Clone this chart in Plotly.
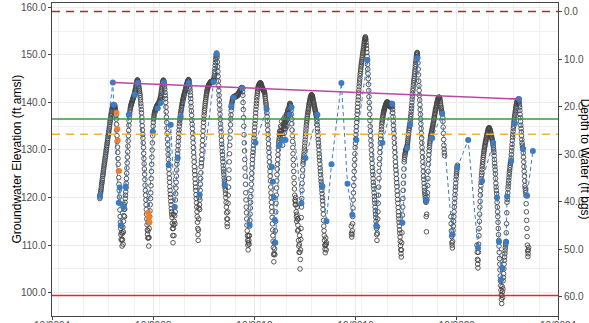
import pandas as pd
import plotly.graph_objects as go

# ---------------- data ----------------
ground_surface = 159.1          # ft amsl (depth 0)
bottom_line_elev = 99.4         # red line
green_line_elev = 136.5
orange_line_elev = 133.3

trend_dates = ["2007-02-26", "2023-03-18"]
trend_values = [144.2, 140.7]

# continuous logger records: a reading at the start of each week and one mid-week
seg_starts = ["2006-08-22", "2016-07-31", "2020-07-08", "2021-07-19"]

seg1 = [
    119.8, 120.5, 121.3, 122.0, 122.9, 123.6, 124.5, 125.2, 126.0, 126.8,
    127.5, 128.3, 129.0, 129.8, 130.5, 131.3, 132.0, 132.8, 133.5, 134.2,
    135.0, 135.8, 136.5, 137.2, 137.8, 138.4, 138.9, 139.3, 139.5, 139.2,
    138.8, 139.4, 138.6, 138.0, 136.5, 134.2, 131.8, 129.5, 127.0, 124.2,
    121.5, 118.8, 116.0, 113.5, 111.2, 114.0, 109.8, 112.5, 110.2, 115.0,
    117.5, 116.0, 119.0, 120.5, 122.0, 124.0, 126.2, 128.5, 130.8, 133.0,
    135.2, 137.0, 138.0, 138.8, 139.3, 139.6, 140.0, 140.3, 140.6, 141.0,
    141.3, 141.6, 142.0, 142.5, 143.0, 143.6, 144.2, 144.6, 144.7, 144.3,
    143.8, 143.0, 142.3, 141.5, 140.5, 139.2, 137.8, 136.0, 134.2, 132.5,
    130.5, 128.2, 126.0, 123.8, 121.5, 119.5, 117.5, 115.5, 113.2, 111.5,
    115.0, 109.8, 113.5, 116.0, 118.5, 121.0, 124.0, 127.0, 130.0, 133.0,
    135.0, 136.5, 137.3, 137.8, 138.2, 138.5, 138.8, 139.0, 139.3, 139.5,
    139.6, 139.8, 140.0, 140.2, 140.5, 141.0, 141.5, 142.3, 143.0, 143.8,
    144.3, 144.7, 144.5, 143.8, 142.8, 141.5, 140.0, 138.0, 135.8, 133.5,
    131.2, 129.0, 127.0, 125.0, 123.2, 121.5, 120.0, 118.5, 117.0, 115.8,
    113.5, 110.5, 116.5, 112.0, 118.0, 114.5, 119.5, 122.0, 124.5, 127.0,
    128.5, 130.0, 131.8, 133.5, 135.0, 136.2, 137.0, 137.8, 138.5, 139.2,
    139.8, 140.3, 140.8, 141.2, 141.7, 142.0, 142.4, 142.8, 143.2, 143.6,
    144.0, 144.3, 144.6, 144.8, 144.5, 143.8, 142.8, 141.5, 140.0, 138.2,
    136.3, 134.5, 132.5, 130.5, 128.5, 126.5, 124.8, 123.0, 121.5, 119.8,
    118.0, 116.0, 113.5, 111.0, 115.5, 120.0, 117.5, 121.5, 124.0, 126.5,
    128.0, 130.0, 132.0, 134.0, 135.8, 137.2, 138.3, 139.3, 140.2, 141.0,
    141.7, 142.3, 142.8, 143.2, 143.5, 143.7, 143.9, 144.0, 144.2, 144.3,
    144.4, 144.3, 144.5, 144.6, 144.4, 144.8, 145.5, 146.5, 147.8, 149.0,
    150.0, 150.4, 149.5, 147.5, 145.5, 143.5, 141.5, 139.5, 137.5, 135.5,
    133.8, 132.0, 130.5, 129.0, 127.5, 126.0, 124.8, 123.5, 122.5, 121.5,
    120.0, 118.0, 115.5, 113.9, 117.0, 120.5, 124.0, 127.5, 131.0, 134.0,
    136.5, 138.3, 139.5, 140.2, 140.7, 141.0, 141.2, 141.0, 141.3, 141.1,
    141.4, 141.2, 141.5, 141.3, 141.7, 141.5, 141.9, 142.0, 142.2, 142.4,
    142.6, 142.8, 143.0, 143.1, 143.0, 141.5, 138.5, 135.0, 131.5, 128.0,
    124.5, 121.0, 118.0, 115.5, 113.0, 111.0, 109.0, 112.0, 110.2, 114.0,
    116.5, 119.0, 121.5, 124.0, 126.2, 128.0, 129.5, 131.0, 132.5, 134.0,
    135.5, 137.0, 138.5, 139.8, 141.0, 142.0, 142.8, 143.3, 143.6, 143.8,
    144.0, 144.1, 144.0, 143.7, 143.4, 143.1, 142.9, 142.7, 142.5, 142.3,
    142.0, 141.2, 140.3, 139.5, 138.6, 137.0, 135.2, 133.3, 131.3, 129.5,
    127.5, 125.5, 123.5, 121.0, 119.0, 117.0, 114.5, 112.0, 109.5, 106.5,
    110.5, 108.0, 113.0, 117.0, 120.5, 123.5, 126.0, 128.0, 130.0, 131.5,
    132.5, 134.0, 133.0, 135.0, 132.0, 136.0, 133.5, 131.0, 134.5, 136.5,
    133.5, 135.5, 137.0, 134.5, 136.0, 137.5, 135.0, 137.8, 138.5, 137.0,
    138.5, 139.2, 139.8, 139.5, 139.0, 137.5, 135.5, 133.0, 130.5, 128.0,
    125.5, 123.0, 120.5, 118.5, 120.0, 117.0, 115.0, 118.0, 113.0, 115.5,
    111.0, 108.5, 112.0, 105.0, 109.0, 113.5, 118.0, 121.5, 124.5, 127.0,
    128.0, 129.0, 130.2, 131.5, 132.8, 134.0, 135.2, 136.2, 137.0, 137.8,
    138.5, 139.2, 139.8, 140.3, 140.8, 141.2, 141.5, 141.6, 141.4, 141.0,
    140.5, 140.0, 139.5, 139.0, 138.5, 138.0, 137.5, 137.0, 136.0, 134.5,
    133.0, 131.5, 130.0, 128.5, 127.0, 125.5, 124.0, 122.8, 121.5, 120.0,
    118.5, 116.5, 114.0, 112.0, 110.0, 108.4, 111.5, 109.0,
]
seg1_mid = [
    120.1, 120.9, 121.6, 122.5, 123.2, 124.0, 124.8, 125.6, 126.4, 127.1,
    127.9, 128.6, 129.4, 130.1, 130.9, 131.6, 132.4, 133.1, 133.8, 134.6,
    135.4, 136.1, 136.8, 137.5, 138.1, 138.6, 139.1, 139.4, 139.3, 139.0,
    139.1, 139.0, 138.3, 137.3, 135.4, 133.0, 130.6, 128.2, 125.6, 122.8,
    120.1, 117.4, 114.8, 112.2, 112.6, 111.0, 111.2, 113.8, 112.8, 116.2,
    118.5, 117.6, 119.8, 121.2, 123.0, 125.1, 127.3, 129.6, 131.9, 134.1,
    136.1, 137.5, 138.4, 139.0, 139.5, 139.8, 140.1, 140.5, 140.8, 141.1,
    141.4, 141.8, 142.2, 142.8, 143.3, 143.9, 144.4, 144.7, 144.5, 144.0,
    143.4, 142.6, 141.9, 141.0, 139.8, 138.5, 136.9, 135.1, 133.3, 131.5,
    129.3, 127.1, 124.9, 122.6, 120.5, 118.5, 116.5, 114.3, 112.3, 113.0,
    111.5, 111.6, 114.8, 117.2, 119.8, 122.5, 125.5, 128.5, 131.5, 134.0,
    135.8, 136.9, 137.6, 138.0, 138.3, 138.6, 138.9, 139.1, 139.4, 139.5,
    139.7, 139.9, 140.1, 140.3, 140.7, 141.2, 141.9, 142.6, 143.4, 144.0,
    144.5, 144.6, 144.2, 143.3, 142.1, 140.8, 139.0, 136.9, 134.6, 132.3,
    130.1, 128.0, 126.0, 124.1, 122.3, 120.7, 119.2, 117.7, 116.4, 114.6,
    112.0, 113.5, 114.2, 115.0, 116.2, 117.0, 120.8, 123.2, 125.8, 127.8,
    129.2, 130.9, 132.6, 134.2, 135.6, 136.6, 137.4, 138.2, 138.9, 139.5,
    140.0, 140.5, 141.0, 141.5, 141.8, 142.2, 142.6, 143.0, 143.4, 143.8,
    144.2, 144.5, 144.7, 144.7, 144.2, 143.3, 142.2, 140.8, 139.1, 137.3,
    135.4, 133.5, 131.5, 129.5, 127.5, 125.6, 123.9, 122.2, 120.6, 118.9,
    117.0, 114.8, 112.2, 113.2, 117.8, 118.5, 119.5, 122.8, 125.2, 127.3,
    129.0, 131.0, 133.0, 134.9, 136.5, 137.8, 138.8, 139.8, 140.6, 141.4,
    142.0, 142.6, 143.0, 143.4, 143.6, 143.8, 144.0, 144.1, 144.3, 144.4,
    144.3, 144.4, 144.5, 144.5, 144.6, 145.1, 146.0, 147.1, 148.4, 149.5,
    150.2, 150.0, 148.5, 146.5, 144.5, 142.5, 140.5, 138.5, 136.5, 134.6,
    132.9, 131.2, 129.7, 128.2, 126.7, 125.4, 124.1, 123.0, 122.0, 120.8,
    119.0, 116.8, 114.5, 115.5, 118.8, 122.2, 125.8, 129.2, 132.5, 135.3,
    137.4, 138.9, 139.9, 140.5, 140.9, 141.1, 141.1, 141.2, 141.2, 141.3,
    141.3, 141.4, 141.4, 141.5, 141.6, 141.7, 141.9, 142.1, 142.3, 142.5,
    142.7, 142.9, 143.1, 143.1, 142.3, 140.0, 136.8, 133.2, 129.8, 126.2,
    122.8, 119.5, 116.8, 114.2, 112.0, 110.0, 110.5, 111.0, 112.0, 115.2,
    117.8, 120.2, 122.8, 125.1, 127.1, 128.8, 130.2, 131.8, 133.2, 134.8,
    136.2, 137.8, 139.2, 140.4, 141.5, 142.4, 143.1, 143.5, 143.7, 143.9,
    144.1, 144.1, 143.9, 143.6, 143.2, 143.0, 142.8, 142.6, 142.4, 142.2,
    141.6, 140.8, 139.9, 139.0, 137.8, 136.1, 134.2, 132.3, 130.4, 128.5,
    126.5, 124.5, 122.2, 120.0, 118.0, 115.8, 113.2, 110.8, 108.0, 108.3,
    109.2, 110.5, 115.0, 118.8, 122.0, 124.8, 127.0, 129.0, 130.8, 132.0,
    133.2, 133.5, 134.0, 133.5, 134.0, 134.8, 132.2, 132.8, 135.5, 135.0,
    134.5, 136.2, 135.8, 135.2, 136.8, 136.2, 136.4, 138.2, 137.8, 137.8,
    138.9, 139.5, 139.7, 139.3, 138.3, 136.5, 134.2, 131.8, 129.2, 126.8,
    124.2, 121.8, 119.5, 119.2, 118.5, 116.0, 116.5, 115.5, 114.2, 113.2,
    109.8, 110.2, 108.5, 107.0, 111.2, 115.8, 119.8, 123.0, 125.8, 127.5,
    128.5, 129.6, 130.8, 132.1, 133.4, 134.6, 135.7, 136.6, 137.4, 138.1,
    138.8, 139.5, 140.0, 140.5, 141.0, 141.3, 141.6, 141.5, 141.2, 140.8,
    140.2, 139.7, 139.2, 138.7, 138.2, 137.7, 137.2, 136.5, 135.3, 133.8,
    132.2, 130.8, 129.2, 127.8, 126.2, 124.8, 123.4, 122.2, 120.8, 119.3,
    117.5, 115.2, 113.0, 111.0, 109.2, 110.0, 110.2, 110.5,
]

seg2 = [
    114.0, 111.7, 113.0, 116.0, 119.5, 122.5, 125.5, 128.0, 130.5, 132.3,
    134.0, 135.8, 137.5, 139.0, 140.5, 142.0, 143.3, 144.5, 145.6, 146.6,
    147.5, 148.3, 149.0, 149.8, 150.5, 151.3, 152.0, 152.8, 153.4, 153.8,
    153.2, 152.0, 150.5, 148.9, 147.0, 145.0, 142.5, 140.0, 137.5, 135.0,
    133.0, 131.0, 129.0, 127.2, 125.5, 124.0, 122.5, 121.0, 119.5, 118.0,
    116.5, 115.0, 113.5, 111.0, 113.9, 117.0, 120.5, 124.0, 127.0, 129.5,
    131.5, 133.0, 134.3, 135.5, 136.3, 137.0, 137.6, 138.1, 138.5, 138.9,
    139.2, 139.5, 139.8, 140.0, 140.1, 140.0, 139.8, 139.7, 139.5, 139.2,
    139.5, 139.0, 139.8, 139.3, 139.7, 138.5, 137.0, 135.2, 133.5, 131.5,
    129.5, 127.5, 125.8, 124.0, 122.3, 120.5, 118.8, 117.0, 115.5, 114.0,
    112.5, 110.8, 109.0, 107.5, 110.5, 114.7, 118.0, 121.5, 124.5, 127.5,
    128.5, 129.2, 129.8, 130.2, 130.4, 130.8, 131.5, 132.3, 133.2, 134.2,
    135.0, 135.5, 136.5, 137.5, 138.7, 140.0, 141.3, 142.5, 143.6, 144.6,
    145.5, 146.5, 147.5, 148.5, 149.5, 150.2, 150.5, 149.5, 147.0, 144.5,
    142.5, 140.5, 138.5, 136.5, 134.5, 132.5, 130.5, 128.5, 126.5, 124.5,
    123.0, 121.5, 120.5, 119.5, 119.0, 112.8, 119.5, 121.0, 124.0, 127.0,
    129.0, 130.5, 131.5, 132.3, 133.0, 133.5, 134.0, 134.5, 135.0, 135.6,
    136.2, 136.8, 137.4, 138.0, 138.5, 139.0, 139.5, 140.0, 140.4, 140.7,
    141.0, 141.1, 141.0, 140.5, 139.8, 139.0, 138.3, 137.8, 137.6, 136.0,
    133.5, 131.0, 129.4,
]
seg2_mid = [
    112.5, 112.2, 114.5, 117.8, 121.0, 124.0, 126.8, 129.2, 131.4, 133.2,
    134.9, 136.6, 138.2, 139.8, 141.2, 142.6, 143.9, 145.0, 146.1, 147.0,
    147.9, 148.6, 149.4, 150.2, 150.9, 151.6, 152.4, 153.1, 153.6, 153.5,
    152.6, 151.3, 149.7, 148.0, 146.0, 143.8, 141.2, 138.8, 136.2, 134.0,
    132.0, 130.0, 128.1, 126.3, 124.8, 123.2, 121.8, 120.2, 118.8, 117.2,
    115.8, 114.2, 112.2, 112.5, 115.5, 118.8, 122.2, 125.5, 128.2, 130.5,
    132.3, 133.7, 134.9, 135.9, 136.7, 137.3, 137.9, 138.3, 138.7, 139.0,
    139.4, 139.6, 139.9, 140.1, 140.0, 139.9, 139.7, 139.6, 139.3, 139.4,
    139.2, 139.4, 139.5, 139.5, 139.1, 137.8, 136.1, 134.3, 132.5, 130.5,
    128.5, 126.6, 124.9, 123.1, 121.4, 119.6, 117.9, 116.2, 114.8, 113.2,
    111.7, 109.9, 108.2, 109.0, 112.6, 116.3, 119.8, 123.0, 126.0, 128.0,
    128.9, 129.5, 130.0, 130.3, 130.6, 131.1, 131.9, 132.8, 133.7, 134.6,
    135.2, 136.0, 137.0, 138.1, 139.3, 140.7, 141.9, 143.0, 144.1, 145.0,
    146.0, 147.0, 148.0, 149.0, 149.9, 150.4, 150.1, 148.3, 145.8, 143.5,
    141.5, 139.5, 137.5, 135.5, 133.5, 131.5, 129.5, 127.5, 125.5, 123.8,
    122.2, 121.0, 120.0, 119.2, 116.0, 116.5, 120.2, 122.5, 125.5, 128.0,
    129.8, 131.0, 131.9, 132.7, 133.3, 133.8, 134.3, 134.8, 135.3, 135.9,
    136.5, 137.1, 137.7, 138.3, 138.8, 139.3, 139.8, 140.2, 140.6, 140.9,
    141.1, 141.0, 140.8, 140.2, 139.4, 138.7, 138.0, 137.7, 136.8, 134.8,
    132.2, 130.2, 128.8,
]

seg3 = [116.0, 113.0, 110.5, 109.4, 112.2, 114.0, 116.0, 118.0, 119.8,
        121.5, 123.0, 124.5, 125.5, 126.5]
seg3_mid = [114.5, 111.8, 110.0, 110.8, 113.1, 115.0, 117.0, 118.9, 120.6,
            122.2, 123.8, 125.0, 126.0, 126.8]

seg4 = [
    110.0, 107.0, 105.2, 108.5, 112.0, 115.0, 118.0, 120.5, 122.5, 124.0,
    125.3, 126.5, 127.5, 128.5, 129.3, 130.0, 130.7, 131.3, 131.8, 132.3,
    132.8, 133.3, 133.8, 134.2, 134.5, 134.7, 134.5, 134.2, 133.8, 133.3,
    132.8, 132.3, 131.8, 131.3, 130.5, 129.5, 128.0, 126.5, 125.0, 123.0,
    121.5, 120.0, 118.0, 116.0, 113.5, 111.0, 108.5, 106.0, 103.5, 101.5,
    99.5, 97.7, 101.3, 99.0, 102.5, 104.0, 106.0, 107.5, 108.8, 110.0,
    110.7, 114.5, 119.0, 120.2, 121.8, 123.0, 124.2, 125.3, 126.3, 127.2,
    127.7, 129.0, 130.5, 132.0, 133.3, 134.5, 135.6, 136.5, 137.3, 138.0,
    138.7, 139.3, 139.8, 140.2, 140.5, 140.7, 140.5, 140.0, 139.0, 137.5,
    136.0, 134.5, 133.0, 131.5, 130.5, 130.2, 128.5, 126.5, 124.5, 122.5,
    121.5, 120.4, 117.0, 113.5, 110.0, 107.6, 109.0,
]
seg4_mid = [
    108.5, 106.0, 106.8, 110.2, 113.5, 116.5, 119.2, 121.5, 123.2, 124.7,
    125.9, 127.0, 128.0, 128.9, 129.7, 130.4, 131.0, 131.6, 132.1, 132.6,
    133.1, 133.6, 134.0, 134.4, 134.6, 134.6, 134.4, 134.0, 133.6, 133.1,
    132.6, 132.1, 131.6, 130.9, 130.0, 128.8, 127.2, 125.8, 124.0, 122.2,
    120.8, 119.0, 117.0, 114.8, 112.2, 109.8, 107.2, 104.8, 102.5, 100.5,
    98.6, 99.5, 100.2, 100.8, 103.2, 105.0, 106.8, 108.2, 109.4, 110.4,
    112.6, 116.8, 119.6, 121.0, 122.4, 123.6, 124.8, 125.8, 126.8, 127.5,
    128.3, 129.8, 131.2, 132.7, 133.9, 135.0, 136.0, 136.9, 137.6, 138.3,
    139.0, 139.6, 140.0, 140.4, 140.6, 140.6, 140.2, 139.5, 138.3, 136.8,
    135.2, 133.8, 132.2, 131.0, 130.3, 129.4, 127.5, 125.5, 123.5, 122.0,
    121.0, 118.7, 115.2, 111.8, 108.8, 108.2, 109.5,
]
seg_values = [seg1, seg2, seg3, seg4]
seg_mid_values = [seg1_mid, seg2_mid, seg3_mid, seg4_mid]

# manual measurements
manual_dates = [
    "2006-08-23", "2007-02-26", "2007-03-12", "2007-05-23", "2007-06-06",
    "2007-06-21", "2007-08-03", "2007-09-01", "2007-10-14", "2008-01-09",
    "2008-02-21", "2008-07-29", "2008-09-24", "2008-12-06", "2009-01-18",
    "2009-03-02", "2009-05-13", "2009-06-11", "2009-08-08", "2009-09-20",
    "2009-11-02", "2010-02-25", "2010-08-03", "2011-02-20", "2011-04-05",
    "2011-07-29", "2011-11-03", "2011-12-06", "2012-04-13", "2012-07-23",
    "2012-10-17", "2013-03-25", "2013-06-10", "2013-06-24", "2013-07-09",
    "2013-07-20", "2013-07-31", "2013-10-01", "2013-11-06", "2013-12-24",
    "2014-02-20", "2014-03-21", "2014-08-11", "2014-10-08", "2015-03-29",
    "2015-06-10", "2015-08-07", "2015-10-19", "2016-03-10", "2016-06-06",
    "2016-08-14", "2016-10-12", "2017-03-21", "2017-07-27", "2017-10-23",
    "2018-03-14", "2018-08-07", "2018-10-15", "2018-11-28", "2019-03-10",
    "2019-07-16", "2019-10-12", "2020-03-02", "2020-07-27", "2020-10-08",
    "2021-03-14", "2021-08-03", "2021-10-01", "2022-03-10", "2022-05-04",
    "2022-06-02", "2022-07-02", "2022-07-20", "2022-09-13", "2022-09-27",
    "2022-11-25", "2023-01-18", "2023-03-18", "2023-05-15", "2023-07-13",
    "2023-10-04",
]
manual_values = [
    120.4, 144.2, 139.5, 118.9, 122.1,
    114.2, 118.0, 122.3, 137.4, 141.6,
    144.1, 114.7, 133.8, 138.8, 139.9,
    144.1, 126.8, 135.3, 118.0, 128.3,
    137.0, 144.1, 120.6, 144.3, 150.2,
    122.7, 139.2, 141.0, 143.0, 114.3,
    131.5, 138.6, 126.4, 123.3, 120.0,
    115.3, 110.5, 131.0, 132.1, 132.1,
    137.4, 139.0, 118.8, 128.3, 137.4,
    122.3, 115.0, 127.0, 144.1, 122.9,
    116.4, 132.1, 148.9, 113.9, 131.5,
    139.7, 114.7, 130.4, 135.3, 149.3,
    119.5, 132.5, 137.6, 112.2, 126.3,
    132.1, 109.4, 123.5, 131.5, 120.0,
    110.7, 102.7, 105.2, 110.7, 120.2,
    127.7, 135.6, 140.7, 130.2, 120.4,
    129.8,
]

# flagged measurements
flag_dates = ["2007-04-20", "2007-05-01", "2007-05-08", "2007-05-27",
              "2008-07-22", "2008-07-30", "2008-08-06"]
flag_values = [137.8, 134.4, 132.0, 125.6, 116.8, 115.8, 114.8]

x_range = ["2004-10-01", "2024-10-01"]
y_range = [95.1, 160.9]
depth_ticks = [0, 10, 20, 30, 40, 50, 60]

# ---------------- figure ----------------
dense_x, dense_y = [], []
for start, vals, mids in zip(seg_starts, seg_values, seg_mid_values):
    dense_x += list(pd.date_range(start, periods=len(vals), freq="7D"))
    dense_y += vals
    mid_start = pd.Timestamp(start) + pd.Timedelta(hours=84)
    dense_x += list(pd.date_range(mid_start, periods=len(mids), freq="7D"))
    dense_y += mids

font_family = "Liberation Sans, Arial, sans-serif"
fig = go.Figure()

fig.add_trace(go.Scatter(
    x=dense_x, y=dense_y, mode="markers",
    marker=dict(symbol="circle-open", size=4.6, color="#454545",
                line=dict(width=0.9, color="#454545")),
    hoverinfo="skip", showlegend=False))

fig.add_trace(go.Scatter(
    x=manual_dates, y=manual_values, mode="lines+markers",
    line=dict(color="#3b7cc2", width=1, dash="4px,3px"),
    marker=dict(size=6, color="#3b7cc2"), showlegend=False))

fig.add_trace(go.Scatter(
    x=flag_dates, y=flag_values, mode="markers",
    marker=dict(size=6, color="#f07f2f"), showlegend=False))

fig.add_trace(go.Scatter(
    x=trend_dates, y=trend_values, mode="lines",
    line=dict(color="#bb46a6", width=1.6), showlegend=False))

# invisible trace on the depth axis so that it is drawn
fig.add_trace(go.Scatter(
    x=manual_dates, y=[ground_surface - v for v in manual_values],
    yaxis="y2", mode="markers", marker=dict(opacity=0),
    hoverinfo="skip", showlegend=False))

hlines = [
    (ground_surface, "#b3262e", "8px,6px"),
    (green_line_elev, "#3a993a", "solid"),
    (orange_line_elev, "#f1b23c", "8px,6px"),
    (bottom_line_elev, "#e8252a", "solid"),
]
for yv, col, dash in hlines:
    fig.add_shape(type="line", xref="paper", x0=0, x1=1, yref="y", y0=yv, y1=yv,
                  line=dict(color=col, width=1.6, dash=dash), layer="above")

axis_common = dict(
    showline=True, linecolor="#444", linewidth=1,
    ticks="outside", ticklen=3, tickcolor="#444",
    tickfont=dict(size=10, color="#4d4d4d", family=font_family),
    gridcolor="#ebebeb", gridwidth=1, zeroline=False, automargin=False,
)

fig.update_layout(
    width=589, height=323,
    margin=dict(l=52, r=31, t=3, b=7),
    paper_bgcolor="white", plot_bgcolor="white",
    font=dict(family=font_family),
    xaxis=dict(range=x_range, type="date", tick0="2004-10-01", dtick="M48",
               tickformat="%m/%Y", mirror=True, ticklabelstandoff=-3,
               minor=dict(dtick="M12", showgrid=True, gridcolor="#f0f0f0"),
               **axis_common),
    yaxis=dict(range=y_range, dtick=10, tickformat=".1f",
               minor=dict(dtick=5, showgrid=True, gridcolor="#f0f0f0"),
               **axis_common),
    yaxis2=dict(overlaying="y", side="right",
                range=[ground_surface - y_range[0], ground_surface - y_range[1]],
                tickvals=depth_ticks, tickformat=".1f", showgrid=False,
                **axis_common),
    annotations=[
        dict(text="Groundwater Elevation (ft amsl)", xref="paper", yref="paper",
             x=-0.071, y=0.5, textangle=-90, showarrow=False,
             xanchor="center", yanchor="middle",
             font=dict(size=12, color="black", family=font_family)),
        dict(text="Depth to Water (ft bgs)", xref="paper", yref="paper",
             x=1.055, y=0.5, textangle=90, showarrow=False,
             xanchor="center", yanchor="middle",
             font=dict(size=12, color="black", family=font_family)),
    ],
)

fig.write_html("out.html", config={"displayModeBar": False},
               post_script="document.body.style.margin='0px';")
